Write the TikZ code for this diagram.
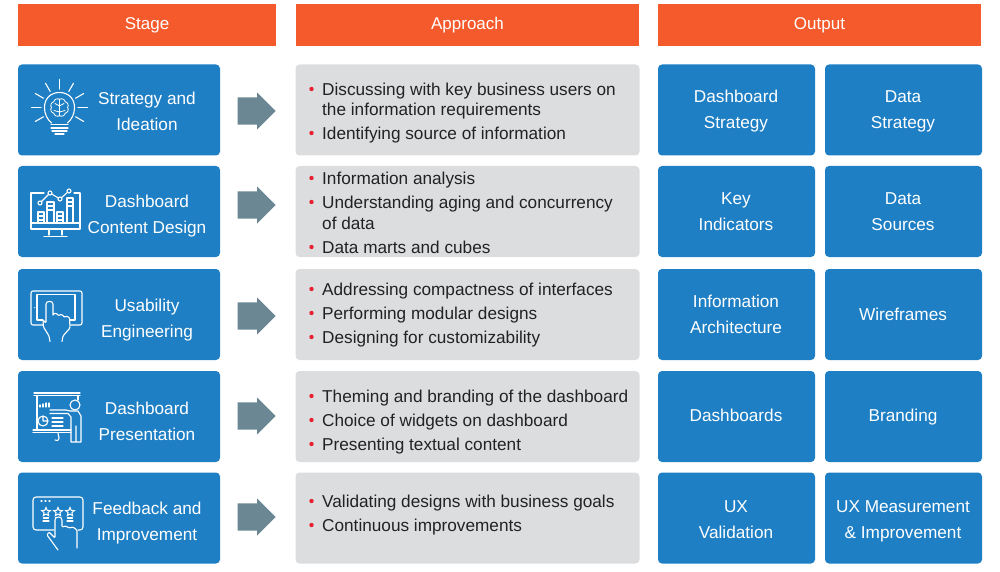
\documentclass[tikz,border=0pt]{standalone}
\usepackage{fontspec}
\setmainfont{Liberation Sans}
\usetikzlibrary{shapes.arrows,shapes.geometric,math}
\definecolor{myorange}{RGB}{245,90,44}
\definecolor{myblue}{RGB}{31,127,196}
\definecolor{mygrey}{RGB}{220,221,223}
\definecolor{myarrow}{RGB}{106,135,147}
\definecolor{myred}{RGB}{232,32,47}
\definecolor{mytext}{RGB}{34,34,34}
\tikzset{
 headbox/.style={fill=myorange,text=white,minimum height=42pt,inner sep=0,text height=10pt,text depth=0pt,font=\fontsize{17}{20}\selectfont},
 stagebox/.style={fill=myblue,rounded corners=4pt,minimum width=202pt,minimum height=91pt,inner sep=0},
 stagetext/.style={text=white,align=center,inner sep=0,font=\fontsize{17.2}{26}\selectfont},
 greybox/.style={fill=mygrey,rounded corners=4pt,minimum width=344pt,minimum height=91pt,inner sep=0},
 outbox/.style={fill=myblue,rounded corners=4pt,minimum width=157pt,minimum height=91pt,inner sep=0},
 itemtext/.style={text=mytext,anchor=west,align=left,inner sep=0,text height=13pt,text depth=0pt,font=\fontsize{17.2}{20}\selectfont},
 flowarrow/.style={single arrow,fill=myarrow,anchor=tip,inner sep=0,text height=27pt,text depth=0pt,minimum height=38pt,minimum width=37pt,single arrow head extend=5pt,single arrow head indent=0pt},
 icon/.style={draw=white,line width=1.1pt,line join=round,line cap=round},
}
\begin{document}
\begin{tikzpicture}[x=1pt,y=-1pt]
\useasboundingbox (0,0) rectangle (1000,572);
%headers
\node[headbox,minimum width=258pt] (headstage) at (147,25) {Stage};
\node[headbox,minimum width=343pt] (headapp) at (467.5,25) {Approach};
\node[headbox,minimum width=323pt] (headout) at (819.5,25) {Output};
%rows
\foreach \i/\y/\yt/\yo/\ya/\st/\oa/\ob in {
 1/110/112/110/111/{Strategy and\\Ideation}/{Dashboard\\Strategy}/{Data\\Strategy},
 2/211.5/215/212.5/205/{Dashboard\\Content Design}/{Key\\Indicators}/{Data\\Sources},
 3/314.5/319/315.5/316/{Usability\\Engineering}/{Information\\Architecture}/{Wireframes},
 4/416.5/422/416.5/416/{Dashboard\\Presentation}/{Dashboards}/{Branding},
 5/518/522/520/517/{Feedback and\\Improvement}/{UX\\Validation}/{UX Measurement\\\& Improvement}}{
 \node[stagebox] (stage\i) at (119,\y) {};
 \node[stagetext] (stagetxt\i) at (147,\yt) {\strut\st\strut};
 \node[greybox] (app\i) at (467.5,\y) {};
 \node[outbox] (outa\i) at (736.5,\y) {};
 \node[outbox] (outb\i) at (903.5,\y) {};
 \node[stagetext] (outtxta\i) at (736,\yo) {\strut\oa\strut};
 \node[stagetext] (outtxtb\i) at (903,\yo) {\strut\ob\strut};
 \node[flowarrow] (arrow\i) at (276,\ya) {};
}
%approach items
\foreach \n/\y/\txt in {
 a/89/{Discussing with key business users on},
 b/109/{the information requirements},
 c/133/{Identifying source of information},
 d/178/{Information analysis},
 e/202/{Understanding aging and concurrency},
 f/223/{of data},
 g/247/{Data marts and cubes},
 h/289/{Addressing compactness of interfaces},
 i/313/{Performing modular designs},
 j/337/{Designing for customizability},
 k/396/{Theming and branding of the dashboard},
 l/420/{Choice of widgets on dashboard},
 m/444/{Presenting textual content},
 n/501/{Validating designs with business goals},
 o/525/{Continuous improvements}}{
 \node[itemtext] (item\n) at (322,\y) {\txt};
}
%bullets
\foreach \y in {89,133,178,202,247,289,313,337,396,420,444,501,525}{
 \fill[myred] (311.5,\y) circle (2.2pt);
}
%bulb icon
\foreach \a in {-150,-120,-90,-60,-30,0,30,150,180}{
 \draw[icon] (59.5,107.5)+(\a:18.5) -- +(\a:28);
}
\draw[icon] (51.5,123) .. controls (47,119) and (44.5,114) .. (44.5,107.5) .. controls (44.5,98) and (51,92.5) .. (59.5,92.5) .. controls (68,92.5) and (74.5,98) .. (74.5,107.5) .. controls (74.5,114) and (72,119) .. (67.5,123);
\draw[icon] (51,124.5) -- (68,124.5) (51,128) -- (68,128) (52,131) -- (67,131) (55,134) -- (64,134);
\foreach \a in {0,45,...,315}{
 \draw[icon,line width=.8pt] (59.5,107.5)+(\a:8) to[bend left=70] +(\a+45:8);
}
\draw[icon,line width=.8pt] (59.5,99) -- (59.5,116) (55,103.5) -- (59.5,106) -- (64,103.5) (54,110.5) -- (59.5,112) -- (65,110.5);
%monitor icon
\draw[icon] (44,193) -- (31,193) -- (31,229) -- (80,229) -- (80,193) -- (74,193);
\draw[icon] (31,223) -- (80,223) (49,229) -- (49,235) (62,229) -- (62,235) (44,236.5) -- (67,236.5);
\foreach \xa/\xb/\yt in {38/44/212,47/54/202,57/63/212,67/73/198}{
 \draw[icon] (\xa,223) -- (\xa,\yt) -- (\xb,\yt) -- (\xb,223) (\xa,\yt+4) -- (\xb,\yt+4) (\xa,\yt+8) -- (\xb,\yt+8);
}
\draw[icon] (40,203) -- (50,193) -- (60,199) -- (69,191);
\foreach \x/\y in {40/203,50/193,60/199,69/191}{
 \filldraw[icon,fill=myblue] (\x,\y) circle (2pt);
}
%tablet icon
\draw[icon,rounded corners=2pt] (31,291) rectangle (82,325);
\draw[icon] (43,320) -- (37,320) -- (37,294.5) -- (75,294.5) -- (75,320) -- (70,320);
\fill[white] (34.7,307.7) circle (.6pt);
\draw[icon,fill=myblue,rounded corners=1pt] (50,341.5) -- (49,336) -- (43.5,327) -- (43,320) -- (46,323) -- (46,305) .. controls (46,300.5) and (53,300.5) .. (53,305) -- (53,316) -- (53.5,313.5) -- (57,313.5) -- (58.5,316) -- (59.5,314.5) -- (63,315) -- (64,317.5) -- (66,316) -- (69.5,317.5) -- (70,328) -- (63,336) -- (62,341.5);
%presentation icon
\draw[icon] (34,393) -- (80,393) (34,395.5) -- (80,395.5) (37,395.5) -- (37,430) (78,395.5) -- (78,400) (33,430) -- (71,430) (33,432.5) -- (71,432.5);
\draw[icon] (75,405) circle (5pt);
\draw[icon] (50,410) -- (66,410) -- (70,411) (50,413.5) -- (68,413.5) -- (71,417) -- (71,442) -- (76,442) -- (76,426) (76,442) -- (81,442) -- (81,416) -- (78,411) -- (70,411);
\draw[icon] (43,421) circle (5pt) (43,421) -- (43,416) (43,421) -- (48,421);
\draw[icon] (52,418) -- (63,418) (52,422) -- (63,422) (52,426) -- (63,426);
\foreach \x/\yt in {40/405,43/404,46/403,49/403}{
 \draw[icon] (\x,\yt) -- (\x,407);
}
\draw[icon] (58,433) -- (59,438) .. controls (59,441) and (56,441) .. (55,440);
%feedback icon
\draw[icon,rounded corners=3pt] (54,530) -- (33,530) -- (33,497) -- (83,497) -- (83,530) -- (78,530);
\draw[icon] (41,501) -- (42,501) (45,501) -- (46,501) (49,501) -- (50,501);
\foreach \i/\x in {1/46,2/58,3/70}{
 \node[draw=white,line width=1pt,star,star points=5,star point ratio=2.2,inner sep=0,minimum size=9pt] (star\i) at (\x,512) {};
 \draw[icon] (\x-2.5,518) -- (\x+2.5,518);
}
\draw[icon] (43,521) -- (49,521) (67,521) -- (73,521);
\draw[icon,fill=myblue,rounded corners=1pt] (58,550) -- (47,535) -- (49,532) -- (55,538) -- (55,521) .. controls (55,516) and (62,516) .. (62,521) -- (62,527) -- (66,526) -- (69,528) -- (73,527) -- (77,530) -- (77,548);
\end{tikzpicture}
\end{document}
